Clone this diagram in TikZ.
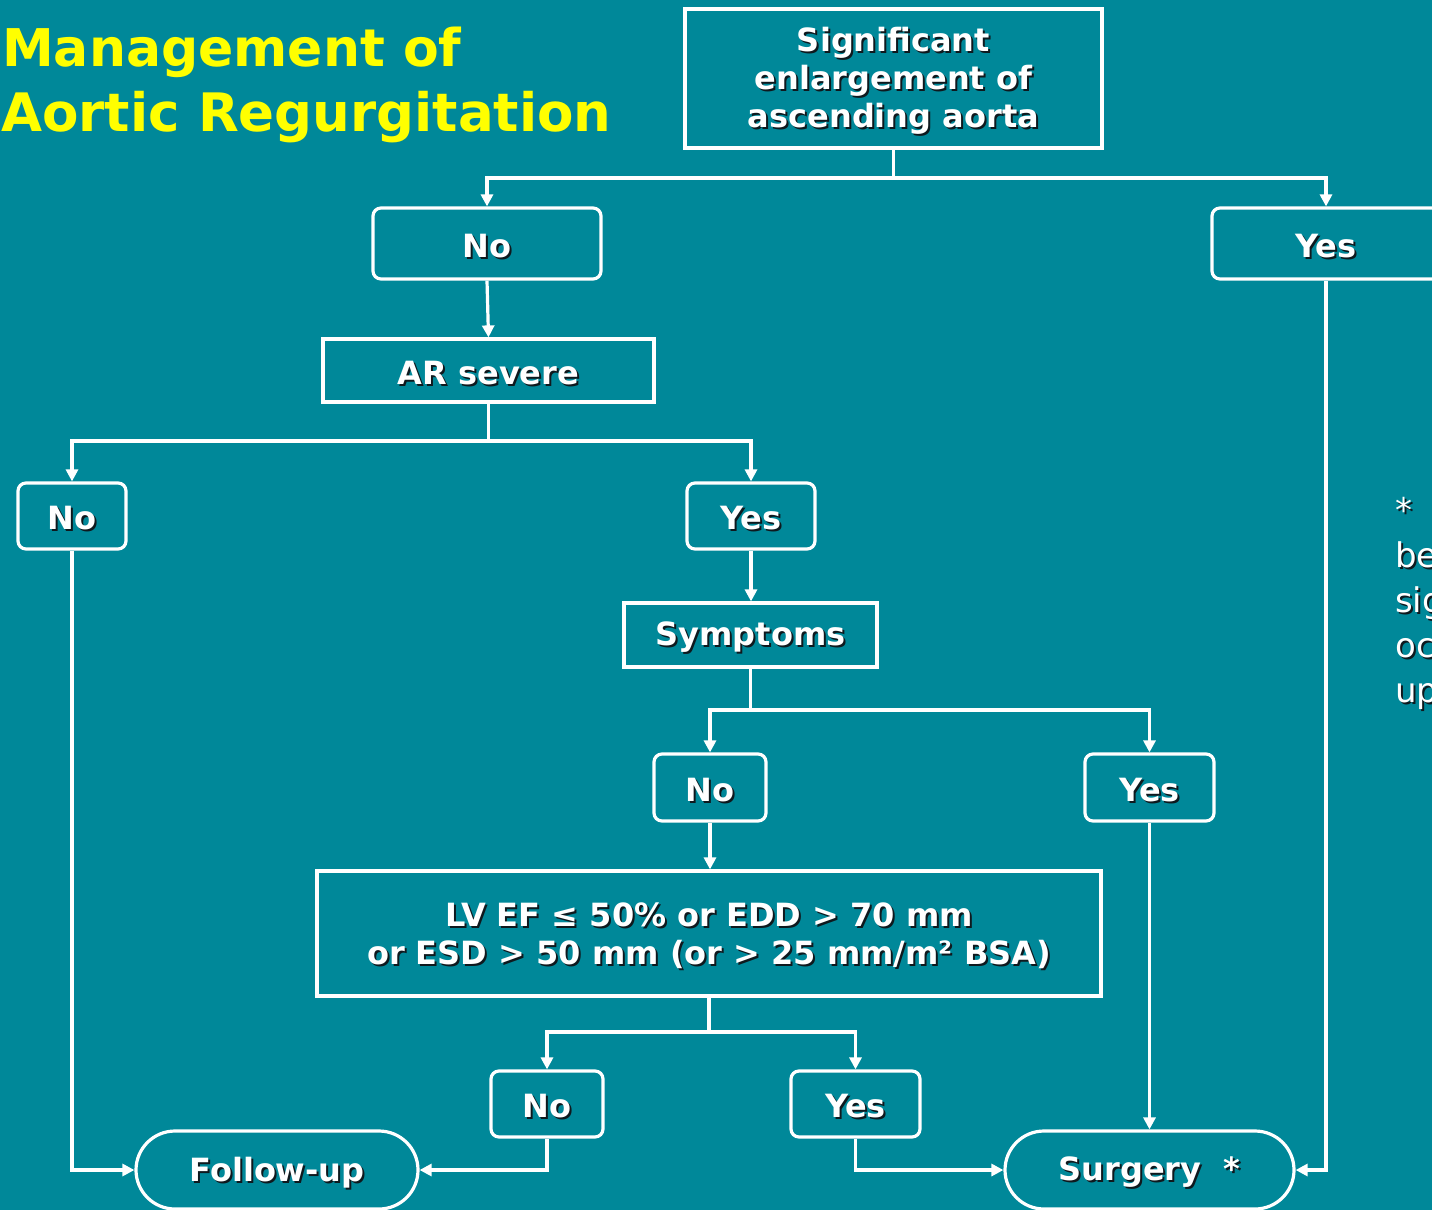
\documentclass[tikz,border=0pt]{standalone}
\usepackage{fontspec}
\setmainfont{DejaVu Sans}
\usetikzlibrary{arrows.meta}
\definecolor{bgteal}{RGB}{0,136,153}
\definecolor{titley}{RGB}{255,255,0}
\definecolor{shad}{RGB}{15,25,30}
\newcommand\sh[1]{\leavevmode\raisebox{-3.5pt}[\height][\depth]{\rlap{\kern2pt\raisebox{-2pt}{\color{shad}#1}}#1}}
\tikzset{
  boxfont/.style={font=\bfseries\fontsize{32}{38}\selectfont, text=white, align=center},
  sqbox/.style={draw=white, line width=3.2pt, boxfont, inner sep=0pt},
  rbox/.style={draw=white, line width=3.2pt, rounded corners=8pt, boxfont, inner sep=0pt},
  stad/.style={draw=white, line width=3.2pt, rounded corners=39pt, boxfont, inner sep=0pt,
               minimum height=78pt},
  conn/.style={draw=white, line width=3.2pt},
  arr/.style={conn, -{Triangle[width=12pt,length=12pt]}},
}
\begin{document}
\begin{tikzpicture}[x=1pt,y=-1pt]
\useasboundingbox (0,0) rectangle (1432,1210);
\fill[bgteal] (0,0) rectangle (1432,1210);
\clip (0,0) rectangle (1432,1210);

% title
\node[anchor=base west, inner sep=0pt, text=titley, font=\bfseries\fontsize{52}{64}\selectfont] (t1) at (2,66) {Management of};
\node[anchor=base west, inner sep=0pt, text=titley, font=\bfseries\fontsize{53}{64}\selectfont] (t2) at (1,131) {Aortic Regurgitation};

% nodes
\node[sqbox, minimum width=417pt, minimum height=139pt] (top) at (893.5,78.5)
  {\sh{Significant}\\\sh{enlargement of}\\\sh{ascending aorta}};
\node[rbox, minimum width=228pt, minimum height=71pt] (no1) at (487,243.5) {\sh{No}};
\node[rbox, minimum width=228pt, minimum height=71pt] (yes1) at (1326,243.5) {\sh{Yes}};
\node[sqbox, minimum width=331pt, minimum height=63pt] (ar) at (488.5,370.5) {\sh{AR severe}};
\node[rbox, minimum width=108pt, minimum height=66pt] (no2) at (72,516) {\sh{No}};
\node[rbox, minimum width=128pt, minimum height=66pt] (yes2) at (751,516) {\sh{Yes}};
\node[sqbox, minimum width=253pt, minimum height=64pt] (sym) at (750.5,635) {\sh{Symptoms}};
\node[rbox, minimum width=112pt, minimum height=67pt] (no3) at (710,787.5) {\sh{No}};
\node[rbox, minimum width=129pt, minimum height=67pt] (yes3) at (1149.5,787.5) {\sh{Yes}};
\node[sqbox, minimum width=784pt, minimum height=125pt] (lv) at (709,933.5)
  {\sh{LV EF ≤ 50\% or EDD > 70 mm}\\\sh{or ESD > 50 mm (or > 25 mm/m² BSA)}};
\node[rbox, minimum width=112pt, minimum height=66pt] (no4) at (547,1104) {\sh{No}};
\node[rbox, minimum width=129pt, minimum height=66pt] (yes4) at (855.5,1104) {\sh{Yes}};
\node[stad, minimum width=282pt] (fu) at (277,1170) {\sh{Follow-up}};
\node[stad, minimum width=289pt] (su) at (1149.5,1170) {\sh{Surgery~ *}};

% side note (cut off at the right edge)
\node[anchor=north west, inner sep=0pt, text=white, align=left,
      font=\fontsize{34}{45}\selectfont] (note) at (1395,494)
  {\sh{*~ S}\\\sh{bef}\\\sh{sign}\\\sh{occ}\\\sh{upo}};

% connectors
\coordinate (j1) at (top.south |- 0,178);
\draw[conn] (top.south) -- (j1);
\draw[arr] (j1) -| (no1.north);
\draw[arr] (j1) -| (yes1.north);
\draw[arr] (no1.south) -- (ar.north);

\coordinate (j2) at (ar.south |- 0,441);
\draw[conn] (ar.south) -- (j2);
\draw[arr] (j2) -| (no2.north);
\draw[arr] (j2) -| (yes2.north);
\draw[arr] (yes2.south) -- (sym.north -| yes2.south);

\coordinate (j3) at (sym.south |- 0,710);
\draw[conn] (sym.south) -- (j3);
\draw[arr] (j3) -| (no3.north);
\draw[arr] (j3) -| (yes3.north);
\draw[arr] (no3.south) -- (lv.north -| no3.south);

\coordinate (j4) at (lv.south |- 0,1032);
\draw[conn] (lv.south) -- (j4);
\draw[arr] (j4) -| (no4.north);
\draw[arr] (j4) -| (yes4.north);

\draw[arr] (no2.south) |- (fu.west);
\draw[arr] (no4.south) |- (fu.east);
\draw[arr] (yes4.south) |- (su.west);
\draw[arr] (yes3.south) -- (su.north -| yes3.south);
\draw[arr] (yes1.south) |- (su.east);
\end{tikzpicture}
\end{document}
